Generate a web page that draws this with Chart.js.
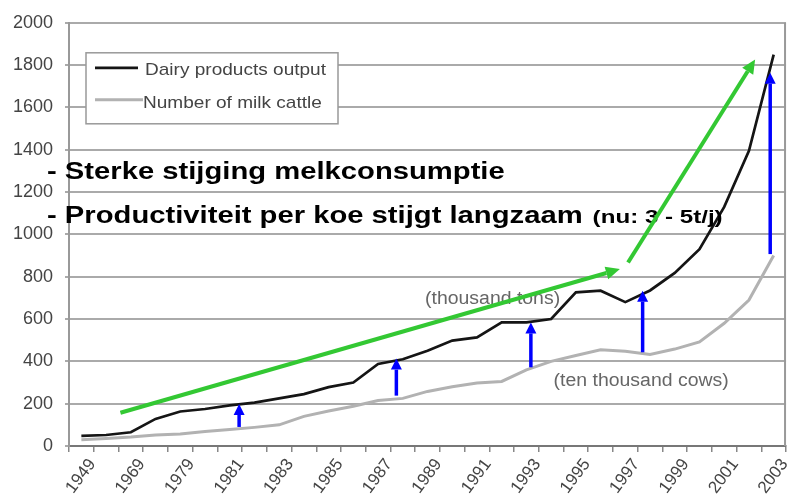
<!DOCTYPE html>
<html><head><meta charset="utf-8">
<script src="https://cdn.jsdelivr.net/npm/chart.js@4"></script>
<style>html,body{margin:0;padding:0;background:#fff;}canvas{display:block;}</style>
</head><body>
<canvas id="c" width="793" height="494"></canvas>
<script>
const years = ['1949','1959','1969','1975','1979','1980','1981','1982','1983','1984','1985','1986','1987','1988','1989','1990','1991','1992','1993','1994','1995','1996','1997','1998','1999','2000','2001','2002','2003'];
const dairyOutput = [48,52,65,128,163,175,192,205,225,245,278,300,388,410,450,498,513,584,584,600,726,734,680,735,818,930,1130,1395,1850];
const milkCattle = [30,35,42,52,57,68,78,88,100,140,165,188,215,225,258,280,298,305,360,400,428,455,448,432,458,492,580,690,900];
const seriesNames = ['Dairy products output','Number of milk cattle'];
const unitLabels = ['(thousand tons)','(ten thousand cows)'];
const headline1 = '- Sterke stijging melkconsumptie';
const headline2 = '- Productiviteit per koe stijgt langzaam';
const headline2Note = '(nu: 3 - 5t/j)';
// blue arrows, in data units: category position, start value, tip value
const blueArrowAt = [6.38, 12.74, 18.18, 22.7, 27.86];
const blueArrowFrom = [90, 238, 372, 443, 907];
const blueArrowTo = [199, 413, 584, 734, 1764];
// green trend arrows, in data units: [x1, v1, x2, v2]
const greenArrows = [[1.58,157,21.78,836],[22.11,867,27.25,1827]];
// unit labels anchors in data units: [category position, value]
const unitLabelAt = [[13.9,696],[19.1,309]];

const FONT = "'Liberation Sans', Arial, Helvetica, sans-serif";

function stretchText(ctx, text, x, y, sx){
  ctx.save(); ctx.translate(x,y); ctx.scale(sx,1); ctx.fillText(text,0,0); ctx.restore();
}
function arrow(ctx,x1,y1,x2,y2,color,lw,headLen,headW){
  const ang=Math.atan2(y2-y1,x2-x1);
  const bx=x2-headLen*Math.cos(ang), by=y2-headLen*Math.sin(ang);
  ctx.strokeStyle=color; ctx.lineWidth=lw; ctx.lineCap='butt';
  ctx.beginPath(); ctx.moveTo(x1,y1); ctx.lineTo(bx,by); ctx.stroke();
  ctx.fillStyle=color; ctx.beginPath(); ctx.moveTo(x2,y2);
  ctx.lineTo(bx+headW/2*Math.sin(ang), by-headW/2*Math.cos(ang));
  ctx.lineTo(bx-headW/2*Math.sin(ang), by+headW/2*Math.cos(ang));
  ctx.closePath(); ctx.fill();
}

const overlay = {
  id:'overlay',
  beforeDatasetsDraw(chart){
    const {ctx, chartArea:a} = chart;
    ctx.save();
    ctx.strokeStyle='#999'; ctx.lineWidth=2;
    ctx.beginPath(); ctx.moveTo(a.right-1,a.top); ctx.lineTo(a.right-1,a.bottom); ctx.stroke();
    // unit labels
    const xs=chart.scales.x, ys=chart.scales.y;
    ctx.fillStyle='#666'; ctx.font='18px '+FONT; ctx.textBaseline='middle'; ctx.textAlign='left';
    unitLabels.forEach((t,i)=>{
      stretchText(ctx, t, xs.getPixelForValue(unitLabelAt[i][0]), ys.getPixelForValue(unitLabelAt[i][1]), 1.08);
    });
    ctx.restore();
  },
  afterDatasetsDraw(chart){
    const {ctx, chartArea:a} = chart;
    const xs=chart.scales.x, ys=chart.scales.y;
    ctx.save();
    // legend box
    const lx=a.left+17, ly=a.top+30, lw=252, lh=71;
    ctx.fillStyle='#fff'; ctx.fillRect(lx,ly,lw,lh);
    ctx.strokeStyle='#999'; ctx.lineWidth=1.5; ctx.strokeRect(lx,ly,lw,lh);
    const ds=chart.data.datasets;
    ctx.font='17px '+FONT; ctx.textBaseline='middle'; ctx.fillStyle='#444';
    [[15,18],[47,51]].forEach((p,i)=>{
      ctx.strokeStyle=ds[i].borderColor; ctx.lineWidth=ds[i].borderWidth;
      ctx.beginPath(); ctx.moveTo(lx+9, ly+p[0]); ctx.lineTo(lx+(i?57:52), ly+p[0]); ctx.stroke();
      ctx.fillStyle='#444';
      stretchText(ctx, ds[i].label, lx+(i?57:59), ly+p[1], 1.12);
    });
    // headlines
    ctx.fillStyle='#000'; ctx.textBaseline='alphabetic';
    ctx.font='bold 23px '+FONT;
    const sx=1.27;
    stretchText(ctx, headline1, 47, 179, sx);
    stretchText(ctx, headline2, 47, 223, sx);
    const w2=ctx.measureText(headline2).width*sx;
    ctx.font='bold 19px '+FONT;
    stretchText(ctx, headline2Note, 47+w2+10, 223, sx);
    // blue arrows
    blueArrowAt.forEach((x,i)=>{
      const px=xs.getPixelForValue(x);
      arrow(ctx, px, ys.getPixelForValue(blueArrowFrom[i]), px, ys.getPixelForValue(blueArrowTo[i]), '#0000ff', 3.5, 11, 11);
    });
    // green arrows
    greenArrows.forEach(g=>{
      arrow(ctx, xs.getPixelForValue(g[0]), ys.getPixelForValue(g[1]), xs.getPixelForValue(g[2]), ys.getPixelForValue(g[3]), '#33c833', 4, 14, 13);
    });
    ctx.restore();
  }
};

new Chart(document.getElementById('c').getContext('2d'), {
  type:'line',
  data:{labels:years, datasets:[
    {label:seriesNames[0], data:dairyOutput, borderColor:'#151515', borderWidth:2.7, pointRadius:0, tension:0, fill:false},
    {label:seriesNames[1], data:milkCattle, borderColor:'#b2b2b2', borderWidth:3, pointRadius:0, tension:0, fill:false}
  ]},
  options:{
    responsive:false, animation:false, devicePixelRatio:1,
    layout:{padding:{top:14,right:2,left:0,bottom:0}},
    plugins:{legend:{display:false}, tooltip:{enabled:false}},
    scales:{
      x:{type:'category', offset:true,
        grid:{display:true, offset:true, drawOnChartArea:false, drawTicks:true, tickLength:6, color:'#888', lineWidth:1.5},
        border:{color:'#777', width:2},
        ticks:{autoSkip:false, maxRotation:53, minRotation:53, padding:3, labelOffset:11, color:'#444', font:{family:FONT,size:17},
          callback:(v,i)=> i%2===0 ? years[i] : ''},
        afterFit:s=>{s.height=48;}},
      y:{min:0, max:2000,
        ticks:{stepSize:200, color:'#444', padding:12, font:{family:FONT,size:18}, callback:v=>String(v)},
        grid:{color:'#aaa', lineWidth:2, tickLength:4},
        border:{color:'#999', width:2},
        afterFit:s=>{s.width=69;}}
    }
  },
  plugins:[overlay]
});
</script>
</body></html>
